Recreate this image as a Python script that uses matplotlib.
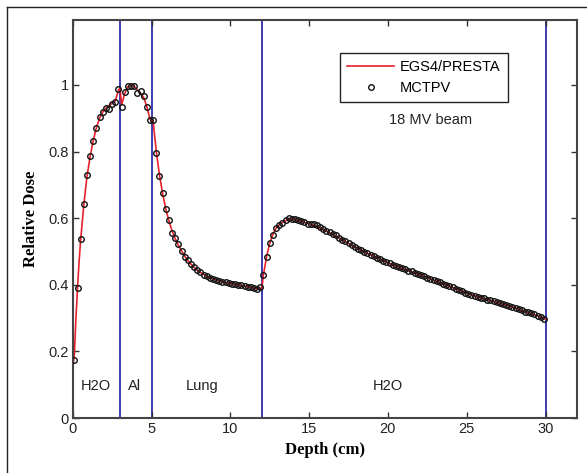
import numpy as np
import matplotlib.pyplot as plt
from matplotlib.lines import Line2D
plt.switch_backend("Agg")

# MCTPV points (depth in cm, relative dose)
mc_depth = [
    0.1, 0.3, 0.5, 0.7, 0.9, 1.1, 1.3, 1.5, 1.7, 1.9, 2.1, 2.3, 2.5, 2.7, 2.9,
    3.1, 3.3, 3.5, 3.7, 3.9, 4.1, 4.3, 4.5, 4.7, 4.9,
    5.1, 5.3, 5.5, 5.7, 5.9, 6.1, 6.3, 6.5, 6.7, 6.9, 7.1, 7.3, 7.5, 7.7, 7.9,
    8.1, 8.3, 8.5, 8.7, 8.9, 9.1, 9.3, 9.5, 9.7, 9.9, 10.1, 10.3, 10.5, 10.7,
    10.9, 11.1, 11.3, 11.5, 11.7, 11.9,
    12.1, 12.3, 12.5, 12.7, 12.9, 13.1, 13.3, 13.5, 13.7, 13.9, 14.1, 14.3,
    14.5, 14.7, 14.9, 15.1, 15.3, 15.5, 15.7, 15.9, 16.1, 16.3, 16.5, 16.7,
    16.9, 17.1, 17.3, 17.5, 17.7, 17.9, 18.1, 18.3, 18.5, 18.7, 18.9, 19.1,
    19.3, 19.5, 19.7, 19.9, 20.1, 20.3, 20.5, 20.7, 20.9, 21.1, 21.3, 21.5,
    21.7, 21.9, 22.1, 22.3, 22.5, 22.7, 22.9, 23.1, 23.3, 23.5, 23.7, 23.9,
    24.1, 24.3, 24.5, 24.7, 24.9, 25.1, 25.3, 25.5, 25.7, 25.9, 26.1, 26.3,
    26.5, 26.7, 26.9, 27.1, 27.3, 27.5, 27.7, 27.9, 28.1, 28.3, 28.5, 28.7,
    28.9, 29.1, 29.3, 29.5, 29.7, 29.9]
mc_dose = [
    0.175, 0.39, 0.537, 0.643, 0.73, 0.786, 0.832, 0.87, 0.905, 0.918, 0.932,
    0.928, 0.942, 0.95, 0.987,
    0.935, 0.98, 0.997, 0.998, 0.997, 0.977, 0.983, 0.967, 0.933, 0.895,
    0.895, 0.797, 0.728, 0.675, 0.627, 0.593, 0.556, 0.54, 0.521, 0.502, 0.482,
    0.474, 0.461, 0.452, 0.444, 0.437, 0.429, 0.427, 0.421, 0.416, 0.413,
    0.411, 0.408, 0.407, 0.404, 0.403, 0.401, 0.399, 0.398, 0.395, 0.394,
    0.392, 0.389, 0.386, 0.394,
    0.429, 0.484, 0.525, 0.55, 0.57, 0.578, 0.584, 0.594, 0.600, 0.598, 0.597,
    0.593, 0.592, 0.588, 0.583, 0.582, 0.581, 0.579, 0.572, 0.566, 0.562,
    0.558, 0.552, 0.548, 0.541, 0.535, 0.531, 0.524, 0.519, 0.514, 0.508,
    0.505, 0.499, 0.494, 0.490, 0.485, 0.481, 0.476, 0.472, 0.467, 0.464,
    0.460, 0.457, 0.452, 0.449, 0.446, 0.442, 0.440, 0.436, 0.433, 0.429,
    0.426, 0.421, 0.418, 0.414, 0.411, 0.407, 0.403, 0.399, 0.396, 0.392,
    0.388, 0.384, 0.381, 0.376, 0.373, 0.370, 0.367, 0.364, 0.361, 0.359,
    0.355, 0.353, 0.350, 0.347, 0.344, 0.342, 0.338, 0.336, 0.333, 0.330,
    0.327, 0.323, 0.319, 0.317, 0.314, 0.311, 0.307, 0.304, 0.296]

# EGS4/PRESTA curve
egs_depth = [
    0.0, 0.1, 0.2, 0.3, 0.4, 0.5, 0.7, 0.9, 1.1, 1.3, 1.5, 1.7, 1.9, 2.1, 2.3,
    2.5, 2.7, 2.9, 3.0, 3.1, 3.3, 3.5, 3.7, 3.9, 4.1, 4.3, 4.5, 4.7, 4.9, 5.1,
    5.3, 5.5, 5.7, 5.9, 6.1, 6.3, 6.5, 6.7, 6.9, 7.1, 7.3, 7.5, 7.7, 8.0, 8.5,
    9.0, 9.5, 10.0, 10.5, 11.0, 11.5, 11.9, 12.0, 12.1, 12.3, 12.5, 12.7, 12.9,
    13.1, 13.4, 13.7, 14.0, 14.5, 15.0, 15.5, 16.0, 16.5, 17.0, 17.5, 18.0,
    18.5, 19.0, 19.5, 20.0, 20.5, 21.0, 21.5, 22.0, 22.5, 23.0, 23.5, 24.0,
    24.5, 25.0, 25.5, 26.0, 26.5, 27.0, 27.5, 28.0, 28.5, 29.0, 29.5, 30.0]
egs_dose = [
    0.15, 0.19, 0.30, 0.39, 0.47, 0.535, 0.64, 0.725, 0.785, 0.833, 0.872,
    0.900, 0.918, 0.930, 0.938, 0.945, 0.952, 0.985, 0.99, 0.94, 0.975, 0.995,
    0.998, 0.996, 0.985, 0.975, 0.962, 0.935, 0.897, 0.89, 0.80, 0.73, 0.674,
    0.628, 0.592, 0.562, 0.538, 0.519, 0.502, 0.486, 0.473, 0.462, 0.452,
    0.440, 0.426, 0.416, 0.409, 0.404, 0.399, 0.395, 0.390, 0.388, 0.39, 0.43,
    0.485, 0.525, 0.552, 0.570, 0.580, 0.590, 0.597, 0.597, 0.591, 0.583,
    0.575, 0.563, 0.551, 0.538, 0.524, 0.511, 0.499, 0.488, 0.477, 0.466,
    0.456, 0.447, 0.439, 0.431, 0.422, 0.412, 0.403, 0.394, 0.385, 0.375,
    0.367, 0.360, 0.353, 0.346, 0.339, 0.332, 0.323, 0.315, 0.307, 0.297]

boundaries = [3, 5, 12, 30]
region_names = ["H2O", "Al", "Lung", "H2O"]
region_centers = [1.45, 3.9, 8.2, 20.0]

sans = ["Liberation Sans", "DejaVu Sans"]
serif = ["Liberation Serif", "DejaVu Serif"]

fig = plt.figure(figsize=(5.87, 4.73), dpi=100)
ax = fig.add_axes([0.124, 0.116, 0.859, 0.842])

for b in boundaries:
    ax.axvline(b, color="#3c3cb0", lw=1.4, zorder=1)

ax.plot(egs_depth, egs_dose, color="#e8212b", lw=1.2, label="EGS4/PRESTA",
        zorder=2)
ax.plot(mc_depth, mc_dose, linestyle="None", marker="o", ms=4.0,
        mfc="none", mec="#111111", mew=1.0, label="MCTPV", zorder=3)

for name, xc in zip(region_names, region_centers):
    ax.text(xc, 0.095, name, ha="center", va="center", fontsize=10.5,
            family=sans, color="#222222")
ax.text(22.7, 0.895, "18 MV beam", ha="center", va="center", fontsize=10.5,
        family=sans, color="#222222")

ax.set_xlim(0, 32)
ax.set_ylim(0, 1.195)
ax.set_xticks([0, 5, 10, 15, 20, 25, 30])
ax.set_yticks([0, 0.2, 0.4, 0.6, 0.8, 1.0])
ax.set_yticklabels(["0", "0.2", "0.4", "0.6", "0.8", "1"])
ax.tick_params(direction="in", top=True, right=True, length=4, width=1,
               color="#333333", labelsize=10.5, labelcolor="#222222", pad=3)
for lab in ax.get_xticklabels() + ax.get_yticklabels():
    lab.set_family(sans)
for sp in ax.spines.values():
    sp.set_color("#444444")
    sp.set_linewidth(1.5)

ax.set_xlabel("Depth (cm)", family=serif, fontweight="bold", fontsize=12,
              labelpad=4)
ax.set_ylabel("Relative Dose", family=serif, fontweight="bold", fontsize=12,
              labelpad=7)

leg = ax.legend(loc="upper left", bbox_to_anchor=(0.53, 0.917),
                borderaxespad=0, prop={"family": sans, "size": 10.5},
                fancybox=False, framealpha=1, edgecolor="#222222",
                handlelength=3.2, borderpad=0.5, labelspacing=0.45,
                handletextpad=0.4)
leg.get_frame().set_linewidth(1.0)

# figure frame (left and top edges only)
fig.add_artist(Line2D([0.012, 0.012], [0.0, 0.985], color="#222222", lw=1.0,
                      transform=fig.transFigure))
fig.add_artist(Line2D([0.012, 1.0], [0.985, 0.985], color="#222222", lw=1.0,
                      transform=fig.transFigure))

fig.savefig("out.png", dpi=100)
